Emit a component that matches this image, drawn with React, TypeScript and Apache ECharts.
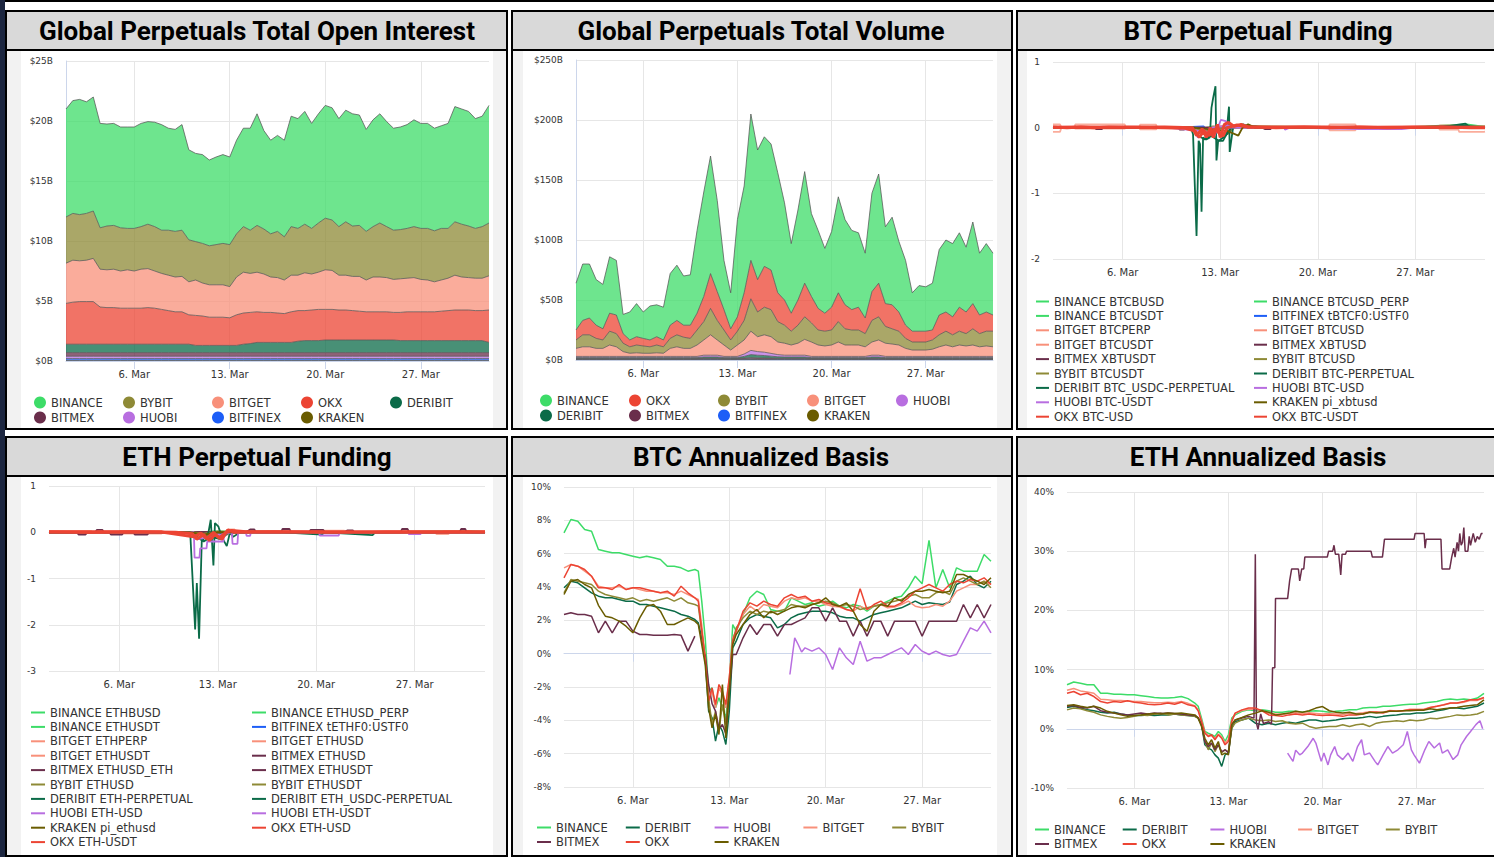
import React, { useEffect, useRef } from "react";
import * as echarts from "echarts";

// ---------- time grids: days after 1 Mar 2023 00:00 ----------
const halfDayTimes: number[] = Array.from({ length: 63 }, (_, i) => i * 0.5);
const basisTimes: number[] = [
  0, 0.5, 1, 1.5, 2, 2.5, 3, 3.5, 4, 4.5, 5, 5.5, 6, 6.5, 7, 7.5, 8, 8.5, 9, 9.5,
  9.75, 10, 10.25, 10.5, 10.75, 11, 11.25, 11.5, 11.75, 12, 12.25,
  12.5, 13, 13.5, 14, 14.5, 15, 15.5, 16, 16.5, 17, 17.5, 18, 18.5, 19, 19.5, 20, 20.5, 21, 21.5,
  22, 22.5, 23, 23.5, 24, 24.5, 25, 25.5, 26, 26.5, 27, 27.5, 28, 28.5, 29, 29.5, 30, 30.5, 31,
];
const dateTicks = [5, 12, 19, 26]; // 6. Mar, 13. Mar, 20. Mar, 27. Mar

const exchangeColors: Record<string, string> = {
  BINANCE: "#3ddc68",
  BYBIT: "#8e8a36",
  BITGET: "#f8907a",
  OKX: "#ec4433",
  DERIBIT: "#0b6b48",
  BITMEX: "#6a2e4b",
  HUOBI: "#b86ee0",
  BITFINEX: "#1d5ef7",
  KRAKEN: "#6a5c00",
};

// ---------- Open interest ($B), every 12h ----------
const oiBinance = [
  9.0, 9.4, 9.6, 9.3, 9.5, 8.7, 8.5, 8.5, 8.4, 8.45,
  8.45, 8.6, 8.55, 8.7, 8.8, 8.5, 8.5, 8.8, 7.5, 7.35,
  7.4, 7.15, 7.3, 7.4, 7.3, 7.8, 8.2, 8.5, 9.3, 8.2,
  7.8, 8.0, 8.05, 9.2, 9.15, 9.4, 8.75, 9.1, 9.4, 9.35,
  9.0, 9.3, 9.35, 9.2, 8.5, 8.9, 9.1, 8.75, 8.5, 8.55,
  8.65, 8.9, 8.75, 8.75, 8.55, 8.55, 8.75, 9.6, 9.6, 9.55,
  9.15, 9.2, 9.8,
];
const oiBybit = [
  3.85, 3.9, 3.85, 3.9, 3.95, 3.45, 3.65, 3.65, 3.6, 3.45,
  3.55, 3.55, 3.7, 3.7, 3.6, 3.75, 3.8, 3.85, 3.5, 3.2,
  3.3, 3.25, 3.35, 3.45, 3.5, 3.6, 3.8, 3.6, 3.9, 3.75,
  3.6, 3.85, 3.6, 4.05, 3.9, 4.05, 3.8, 4.1, 4.3, 4.2,
  4.05, 4.45, 4.2, 4.25, 4.05, 4.2, 4.5, 4.25, 4.1, 4.1,
  4.15, 4.25, 4.25, 4.3, 4.25, 4.3, 4.15, 4.45, 4.4, 4.3,
  4.15, 4.3, 4.4,
];
const oiBitget = [
  3.35, 3.5, 3.4, 3.45, 3.6, 3.15, 3.15, 3.2, 3.1, 3.2,
  3.1, 3.25, 3.25, 3.1, 3.0, 2.95, 2.9, 2.95, 2.75, 2.95,
  2.75, 2.7, 2.7, 2.7, 2.6, 3.15, 3.4, 3.25, 3.3, 3.2,
  2.95, 2.95, 2.8, 3.05, 2.95, 3.15, 3.0, 3.1, 3.3, 3.25,
  2.9, 2.9, 2.85, 2.9, 2.65, 2.9, 2.9, 2.85, 2.75, 2.8,
  2.8, 2.85, 2.7, 2.65, 2.5, 2.6, 2.7, 2.9, 2.75, 2.7,
  2.7, 2.7, 2.85,
];
const oiOkx = [
  3.4, 3.5, 3.55, 3.55, 3.55, 3.1, 3.05, 3.05, 3.0, 3.0,
  3.0, 3.0, 3.05, 3.0, 2.9, 2.8, 2.7, 2.7, 2.45, 2.5,
  2.45, 2.35, 2.35, 2.35, 2.3, 2.55, 2.6, 2.6, 2.55, 2.5,
  2.5, 2.45, 2.4, 2.55, 2.55, 2.5, 2.55, 2.6, 2.55, 2.55,
  2.5, 2.5, 2.45, 2.4, 2.35, 2.35, 2.35, 2.35, 2.3, 2.35,
  2.4, 2.4, 2.4, 2.4, 2.4, 2.45, 2.5, 2.55, 2.55, 2.55,
  2.5, 2.5, 2.7,
];
const oiDeribit = [
  0.7, 0.7, 0.7, 0.7, 0.7, 0.7, 0.7, 0.7, 0.7, 0.7,
  0.7, 0.7, 0.7, 0.7, 0.7, 0.7, 0.7, 0.7, 0.7, 0.6,
  0.6, 0.6, 0.6, 0.6, 0.6, 0.6, 0.7, 0.75, 0.85, 0.85,
  0.85, 0.85, 0.85, 0.85, 0.95, 1.0, 1.0, 1.0, 1.05, 1.05,
  1.05, 1.05, 1.05, 1.05, 1.05, 1.05, 1.05, 1.05, 1.05, 1.0,
  1.0, 1.0, 1.0, 1.0, 1.0, 1.0, 1.0, 1.0, 1.0, 1.0,
  1.0, 1.0, 0.85,
];
const oiBitmex = [
  0.3, 0.3, 0.3, 0.3, 0.3, 0.3, 0.3, 0.3, 0.3, 0.3,
  0.3, 0.3, 0.3, 0.3, 0.3, 0.3, 0.3, 0.3, 0.3, 0.3,
  0.3, 0.3, 0.3, 0.3, 0.3, 0.3, 0.3, 0.3, 0.3, 0.3,
  0.3, 0.3, 0.3, 0.3, 0.3, 0.3, 0.3, 0.3, 0.3, 0.3,
  0.3, 0.3, 0.3, 0.3, 0.3, 0.3, 0.3, 0.3, 0.3, 0.3,
  0.3, 0.3, 0.3, 0.3, 0.3, 0.3, 0.3, 0.3, 0.3, 0.3,
  0.3, 0.3, 0.3,
];
const oiHuobi = [
  0.2, 0.2, 0.2, 0.2, 0.2, 0.2, 0.2, 0.2, 0.2, 0.2,
  0.2, 0.2, 0.2, 0.2, 0.2, 0.2, 0.2, 0.2, 0.2, 0.2,
  0.2, 0.2, 0.2, 0.2, 0.2, 0.2, 0.2, 0.2, 0.2, 0.2,
  0.2, 0.2, 0.2, 0.2, 0.2, 0.2, 0.2, 0.2, 0.2, 0.2,
  0.2, 0.2, 0.2, 0.2, 0.2, 0.2, 0.2, 0.2, 0.2, 0.2,
  0.2, 0.2, 0.2, 0.2, 0.2, 0.2, 0.2, 0.2, 0.2, 0.2,
  0.2, 0.2, 0.2,
];
const oiBitfinex = [
  0.15, 0.15, 0.15, 0.15, 0.15, 0.15, 0.15, 0.15, 0.15, 0.15,
  0.15, 0.15, 0.15, 0.15, 0.15, 0.15, 0.15, 0.15, 0.15, 0.15,
  0.15, 0.15, 0.15, 0.15, 0.15, 0.15, 0.15, 0.15, 0.15, 0.15,
  0.15, 0.15, 0.15, 0.15, 0.15, 0.15, 0.15, 0.15, 0.15, 0.15,
  0.15, 0.15, 0.15, 0.15, 0.15, 0.15, 0.15, 0.15, 0.15, 0.15,
  0.15, 0.15, 0.15, 0.15, 0.15, 0.15, 0.15, 0.15, 0.15, 0.15,
  0.15, 0.15, 0.15,
];
const oiKraken = [
  0.05, 0.05, 0.05, 0.05, 0.05, 0.05, 0.05, 0.05, 0.05, 0.05,
  0.05, 0.05, 0.05, 0.05, 0.05, 0.05, 0.05, 0.05, 0.05, 0.05,
  0.05, 0.05, 0.05, 0.05, 0.05, 0.05, 0.05, 0.05, 0.05, 0.05,
  0.05, 0.05, 0.05, 0.05, 0.05, 0.05, 0.05, 0.05, 0.05, 0.05,
  0.05, 0.05, 0.05, 0.05, 0.05, 0.05, 0.05, 0.05, 0.05, 0.05,
  0.05, 0.05, 0.05, 0.05, 0.05, 0.05, 0.05, 0.05, 0.05, 0.05,
  0.05, 0.05, 0.05,
];

// ---------- Volume ($B), every 12h ----------
const volBinance = [
  39, 47, 45, 38, 37, 47, 45.5, 16, 23.3, 27.6,
  22, 28.3, 26.6, 27.3, 43, 46, 41, 42, 69, 87,
  98, 76, 41, 30, 81, 89, 122, 108, 108, 105,
  100, 81, 58, 75, 93, 69, 65, 54, 63, 80,
  71, 66, 62, 54, 82, 91, 64, 73, 59, 54,
  32, 38, 37, 39, 54.5, 60, 61, 62, 54, 68,
  51.5, 57, 51.5,
];
const volOkx = [
  8.3, 12, 14, 11, 9.3, 15, 15.5, 8, 5.7, 6.9,
  6.3, 5.7, 6.9, 5.7, 11, 12, 10, 11, 14, 21,
  29, 24, 17, 9.3, 12, 23, 32, 27, 34, 33,
  24, 21, 15, 21, 28, 22, 18, 15, 19, 24,
  20, 17, 19, 13, 24, 28, 19, 20, 16, 11,
  9, 9, 9, 8.3, 16.5, 16, 15, 20, 18, 21,
  15.5, 16, 13.5,
];
const volBybit = [
  7, 10, 10, 8.3, 7, 11.5, 11, 7, 5.4, 6.5,
  6.1, 5.4, 6.5, 5.4, 8.3, 10, 9.3, 8.3, 12.5, 15.3,
  22, 16.3, 12.5, 8.4, 11.5, 16.3, 27, 20.6, 23, 22.6,
  17, 15, 11.5, 15, 18.8, 16, 12.5, 12.3, 12.5, 17,
  13.5, 12.5, 12.5, 11, 18, 19.3, 14, 12.7, 11.5, 8.3,
  6.7, 6.7, 6.7, 7.7, 10, 11.5, 10, 11.5, 10.3, 13.5,
  11, 12.3, 13,
];
const volBitget = [
  6.7, 8, 8, 6.7, 6.7, 9.5, 8, 4, 2.6, 3,
  2.6, 2.6, 3, 2.6, 6.7, 8, 6.7, 6.7, 9.5, 12.7,
  17, 12.7, 9.5, 5.3, 9.5, 11.7, 16, 12.4, 14.5, 13.9,
  10.5, 10, 8.5, 10, 13.2, 12, 9.5, 8.7, 9.5, 12,
  9.5, 9.5, 9.5, 8, 11, 12.7, 11, 10.3, 9.5, 6.7,
  5.3, 5.3, 5.3, 6, 8, 9.5, 8, 9.5, 8.7, 9.5,
  8, 8.7, 8,
];
const volHuobi = [
  1, 1, 1, 1, 1, 1, 1, 1, 1, 1,
  1, 1, 1, 1, 1, 1, 1, 1, 1, 1.5,
  1.5, 1.5, 1, 1, 1, 2, 3.5, 3, 2.8, 2.3,
  1.8, 1.5, 1.5, 1.5, 1.5, 1, 1, 1, 1, 1,
  1, 1, 1, 1, 1.5, 1.5, 1, 1, 1, 1,
  1, 1, 1, 1, 1, 1, 1, 1, 1, 1,
  1, 1, 1,
];
const volDeribit = [
  0.8, 0.8, 0.8, 0.8, 0.8, 0.8, 0.8, 0.8, 0.8, 0.8,
  0.8, 0.8, 0.8, 0.8, 0.8, 0.8, 0.8, 0.8, 0.8, 1.1,
  1.1, 1.1, 0.8, 0.8, 0.8, 1.4, 2.5, 2.2, 2.0, 1.6,
  1.3, 1.1, 1.1, 1.1, 1.1, 0.8, 0.8, 0.8, 0.8, 0.8,
  0.8, 0.8, 0.8, 0.8, 1.1, 1.1, 0.8, 0.8, 0.8, 0.8,
  0.8, 0.8, 0.8, 0.8, 0.8, 0.8, 0.8, 0.8, 0.8, 0.8,
  0.8, 0.8, 0.8,
];
const volBitmex = [
  0.5, 0.5, 0.5, 0.5, 0.5, 0.5, 0.5, 0.5, 0.5, 0.5,
  0.5, 0.5, 0.5, 0.5, 0.5, 0.5, 0.5, 0.5, 0.5, 0.6,
  0.6, 0.6, 0.5, 0.5, 0.5, 0.8, 1.0, 0.9, 0.9, 0.8,
  0.6, 0.6, 0.6, 0.6, 0.6, 0.5, 0.5, 0.5, 0.5, 0.5,
  0.5, 0.5, 0.5, 0.5, 0.6, 0.6, 0.5, 0.5, 0.5, 0.5,
  0.5, 0.5, 0.5, 0.5, 0.5, 0.5, 0.5, 0.5, 0.5, 0.5,
  0.5, 0.5, 0.5,
];
const volBitfinex = [
  0.4, 0.4, 0.4, 0.4, 0.4, 0.4, 0.4, 0.4, 0.4, 0.4,
  0.4, 0.4, 0.4, 0.4, 0.4, 0.4, 0.4, 0.4, 0.4, 0.5,
  0.5, 0.5, 0.4, 0.4, 0.4, 0.5, 0.6, 0.5, 0.5, 0.5,
  0.5, 0.5, 0.5, 0.5, 0.5, 0.4, 0.4, 0.4, 0.4, 0.4,
  0.4, 0.4, 0.4, 0.4, 0.5, 0.5, 0.4, 0.4, 0.4, 0.4,
  0.4, 0.4, 0.4, 0.4, 0.4, 0.4, 0.4, 0.4, 0.4, 0.4,
  0.4, 0.4, 0.4,
];
const volKraken = [
  0.3, 0.3, 0.3, 0.3, 0.3, 0.3, 0.3, 0.3, 0.3, 0.3,
  0.3, 0.3, 0.3, 0.3, 0.3, 0.3, 0.3, 0.3, 0.3, 0.3,
  0.3, 0.3, 0.3, 0.3, 0.3, 0.3, 0.4, 0.4, 0.3, 0.3,
  0.3, 0.3, 0.3, 0.3, 0.3, 0.3, 0.3, 0.3, 0.3, 0.3,
  0.3, 0.3, 0.3, 0.3, 0.3, 0.3, 0.3, 0.3, 0.3, 0.3,
  0.3, 0.3, 0.3, 0.3, 0.3, 0.3, 0.3, 0.3, 0.3, 0.3,
  0.3, 0.3, 0.3,
];

// ---------- BTC perpetual funding: [day, rate] ----------
const fBtcBinanceBusd = [[0, 0.01], [3, 0], [6, 0.01], [9, 0.005], [10.5, -0.02], [11.5, 0.02], [12.5, 0], [13.5, 0.03], [15, 0.01], [18, 0], [21, 0.01], [24, 0.005], [27, 0.01], [29.5, 0.04], [30, 0.01], [31, 0.02]];
const fBtcBinanceUsdPerp = [[0, 0.01], [4, 0.01], [8, 0.01], [10, 0], [11, -0.05], [12, 0.01], [13, 0.02], [16, 0.01], [20, 0.01], [24, 0.01], [28, 0.01], [31, 0.01]];
const fBtcBinanceUsdt = [[0, 0.005], [5, 0], [9, 0.005], [10.6, -0.03], [11.4, 0], [12.6, 0.03], [13.2, 0.01], [17, 0.01], [22, 0], [26, 0.01], [29.7, 0.05], [31, 0.01]];
const fBtcBitfinex = [[0, 0.01], [10, 0.01], [10.8, 0.02], [11.2, -0.05], [12, 0.01], [20, 0], [31, 0.01]];
const fBtcBitgetPerp = [[0, 0.05], [0.5, 0.05], [0.6, 0], [1.55, 0], [1.6, 0.05], [5.15, 0.05], [5.2, 0.01], [6.2, 0.01], [6.25, 0.045], [7.4, 0.045], [7.45, 0.01], [9.5, 0.01], [10.5, -0.02], [11.5, 0.02], [12.5, 0.03], [13, 0.01], [19.8, 0.01], [19.85, 0.05], [21.7, 0.05], [21.75, 0.01], [27.7, 0.01], [27.75, 0.035], [28.9, 0.035], [28.95, 0.01], [31, 0.01]];
const fBtcBitgetUsd = [[0, -0.065], [0.5, -0.065], [0.6, 0], [1.55, 0], [1.6, -0.015], [5.15, -0.015], [5.2, 0], [6.2, 0], [6.25, -0.025], [7.4, -0.025], [7.45, 0], [19.8, 0], [19.85, -0.04], [21.7, -0.04], [21.75, 0], [27.7, 0], [27.75, -0.03], [29.1, -0.03], [29.15, -0.065], [30.9, -0.065], [31, -0.06]];
const fBtcBitgetUsdt = [[0, 0.01], [4, 0.01], [8, 0.005], [10, 0], [10.6, -0.08], [11.2, -0.1], [11.8, -0.05], [12.4, -0.1], [12.9, 0.02], [14, 0.01], [18, 0.01], [22, 0], [26, 0.01], [30, 0.01], [31, 0]];
const fBtcBitmexXbtusd = [[0, 0], [3, 0], [3.1, -0.02], [3.5, -0.02], [3.6, 0], [9, 0], [9.1, -0.03], [9.4, -0.03], [9.5, 0], [12, 0], [14.5, 0.02], [15, 0], [15.2, -0.02], [15.6, -0.02], [15.7, 0], [31, 0]];
const fBtcBitmexXbtusdt = [[0, 0.005], [6, 0], [10, 0.005], [11, -0.03], [12, 0], [20, 0.005], [31, 0]];
const fBtcBybitUsd = [[0, 0.01], [5, 0.01], [10, 0], [11, -0.05], [12, -0.08], [12.5, -0.1], [13, 0], [14, 0.02], [20, 0.01], [31, 0.01]];
const fBtcBybitUsdt = [[0, 0.01], [6, 0.01], [10, 0.01], [10.8, -0.04], [11.8, -0.02], [12.8, 0.03], [13.5, 0.02], [18, 0.01], [25, 0.01], [31, 0.01]];
const fBtcDeribitPerp = [[0, 0.005], [2, 0], [4, 0.005], [6, 0], [8, 0.005], [9.9, 0], [10.05, -0.1], [10.3, -1.65], [10.45, -0.2], [10.55, -0.25], [10.66, -1.28], [10.77, -0.15], [11.0, -0.18], [11.25, -0.15], [11.37, 0.3], [11.49, 0.45], [11.66, 0.63], [11.73, -0.5], [11.85, -0.2], [12.2, -0.2], [12.44, -0.1], [12.63, 0.32], [12.68, -0.37], [12.92, 0], [13.4, 0.03], [13.64, 0.05], [14, 0.02], [16, 0], [18, 0.01], [20, 0], [22, 0.01], [24, 0], [26, 0.005], [28, 0.01], [29.6, 0.06], [30, 0], [31, 0.01]];
const fBtcDeribitUsdc = [[0, 0], [5, 0.01], [10, 0], [10.4, -0.12], [10.9, -0.18], [11.3, -0.12], [11.9, -0.2], [12.4, -0.12], [12.8, 0], [13.5, 0.04], [14, 0], [20, 0.01], [25, 0], [29.5, 0.03], [31, 0]];
const fBtcHuobiUsd = [[0, 0], [5, 0.01], [10, 0], [10.4, -0.15], [10.9, -0.05], [11.6, -0.12], [12.05, 0.12], [12.4, 0.1], [12.6, 0], [14, 0], [16.6, 0], [16.65, -0.03], [17, 0], [22, -0.02], [25, -0.02], [26, 0], [31, 0]];
const fBtcHuobiUsdt = [[0, 0.005], [8, 0.005], [10.5, -0.05], [11.5, 0], [12.5, 0.03], [14, 0.005], [20, 0], [24, -0.015], [27, 0], [31, 0.005]];
const fBtcKraken = [[0, 0], [10, 0], [12.5, -0.05], [13.3, -0.12], [13.6, 0], [14, 0.05], [14.5, 0], [31, 0]];
const fBtcOkxUsd = [[0, 0.01], [1, 0], [2, 0.01], [3, 0], [4, 0.01], [6, 0.005], [8, 0], [9.5, -0.01], [10.2, -0.05], [10.5, -0.15], [10.8, -0.05], [11, -0.15], [11.3, 0], [11.5, -0.15], [11.8, 0.05], [12, -0.15], [12.3, 0.05], [12.6, 0.08], [13, 0.02], [13.5, 0.05], [14, 0.01], [16, 0], [18, 0.01], [20, 0], [22, 0.01], [24, 0], [26, 0.005], [28, 0.01], [30, 0], [31, 0]];
const fBtcOkxUsdt = [[0, 0.005], [2, 0.01], [5, 0.005], [8, 0.01], [10, 0], [10.3, -0.12], [10.7, -0.02], [11.2, -0.12], [11.6, -0.02], [12.2, -0.13], [12.5, 0], [13.2, 0.04], [14, 0.01], [17, 0.01], [20, 0.01], [23, 0.005], [26, 0.01], [29, 0.005], [31, 0.01]];

// ---------- ETH perpetual funding: [day, rate] ----------
const fEthBinanceBusd = [[0, 0.01], [4, 0.005], [8, 0.01], [10.5, -0.03], [11.5, 0.01], [13, 0.02], [17, 0.01], [22, 0.005], [26, 0.01], [29.6, 0.03], [31, 0.01]];
const fEthBinanceUsdPerp = [[0, 0.01], [6, 0.01], [10, 0], [11, -0.05], [12, 0], [14, 0.01], [20, 0.01], [31, 0.01]];
const fEthBinanceUsdt = [[0, 0.005], [5, 0.01], [9, 0.005], [10.7, -0.04], [11.7, 0.02], [13, 0.01], [19, 0], [25, 0.01], [31, 0.01]];
const fEthBitfinex = [[0, 0.01], [10, 0.01], [11, -0.03], [12, 0.01], [31, 0.01]];
const fEthBitgetPerp = [[0, 0.03], [3, 0.03], [3.05, 0], [5, 0], [5.05, 0.03], [8, 0.03], [8.05, 0], [12.7, 0], [12.75, 0.06], [13.2, 0.06], [13.25, 0], [19, 0], [19.05, 0.035], [21, 0.035], [21.05, 0], [28, 0], [28.05, 0.03], [30, 0.03], [30.05, 0], [31, 0]];
const fEthBitgetUsd = [[0, -0.02], [3, -0.02], [3.05, 0], [5, 0], [5.05, -0.03], [8, -0.03], [8.05, 0], [12, 0], [12.7, -0.05], [13.5, 0], [27.5, 0], [27.55, -0.04], [28.4, -0.04], [28.45, 0], [31, 0]];
const fEthBitgetUsdt = [[0, 0.01], [5, 0.01], [10, 0], [10.8, -0.1], [11.6, -0.15], [12.4, -0.05], [13, 0.02], [18, 0.01], [24, 0.01], [31, 0.01]];
const fEthBitmexUsd = [[0, 0], [2, 0], [2.1, -0.05], [2.6, -0.05], [2.7, 0], [3.3, 0], [3.4, 0.05], [3.8, 0.05], [3.9, 0], [4.3, 0], [4.4, -0.05], [5.2, -0.05], [5.3, 0], [16.5, 0], [16.6, 0.07], [17.1, 0.07], [17.2, 0], [18.5, 0], [18.6, 0.05], [19.5, 0.05], [19.6, 0], [25, 0], [25.1, 0.07], [25.5, 0.07], [25.6, 0], [29.2, 0], [29.3, 0.07], [29.6, 0.07], [29.7, 0], [31, 0]];
const fEthBitmexUsdEth = [[0, 0], [6, 0], [6.1, -0.05], [7, -0.05], [7.1, 0], [14, 0], [14.3, 0.06], [14.6, 0.06], [14.7, 0], [21, 0], [21.2, 0.04], [21.6, 0.04], [21.7, 0], [31, 0]];
const fEthBitmexUsdt = [[0, 0.005], [10, 0], [11, -0.05], [12, 0], [31, 0.005]];
const fEthBybitUsd = [[0, 0.01], [10, 0], [11, -0.06], [12, -0.1], [12.6, 0], [31, 0.01]];
const fEthBybitUsdt = [[0, 0.01], [10, 0.01], [11, -0.03], [12, 0.02], [13, 0.01], [31, 0.01]];
const fEthDeribitPerp = [[0, 0], [4, 0.01], [8, 0], [10.04, 0], [10.39, -2.1], [10.51, -1.1], [10.67, -2.3], [10.86, -0.2], [11.1, -0.1], [11.34, 0], [11.5, 0.27], [11.69, -0.72], [11.8, 0.2], [12.05, 0.12], [12.28, -0.1], [12.64, -0.3], [12.87, 0], [13.1, -0.1], [13.58, 0], [16, 0.01], [19.4, -0.05], [19.6, 0], [23, -0.06], [23.2, 0], [28, 0.01], [31, 0]];
const fEthDeribitUsdc = [[0, 0], [10, 0], [10.5, -0.1], [11, -0.2], [11.5, -0.1], [12.2, -0.15], [12.8, 0], [31, 0]];
const fEthHuobiUsd = [[0, 0], [10.3, 0], [10.35, -0.55], [10.7, -0.55], [10.75, -0.35], [11.2, -0.35], [11.25, -0.2], [12.4, -0.2], [12.45, 0], [13.0, 0], [13.05, -0.25], [13.4, -0.25], [13.45, 0], [14.0, 0], [14.05, -0.08], [14.3, -0.08], [14.35, 0], [19.2, 0], [19.25, -0.07], [20.6, -0.07], [20.65, 0], [31, 0]];
const fEthHuobiUsdt = [[0, 0.005], [10, 0], [10.6, -0.15], [11.4, -0.1], [12.2, -0.05], [13, 0], [25.5, 0], [25.6, -0.04], [26.4, -0.04], [26.5, 0], [31, 0]];
const fEthKraken = [[0, 0], [10, 0], [11, -0.05], [12, 0], [31, 0]];
const fEthOkxUsd = [[0, 0.01], [3, 0], [6, 0.01], [9, 0], [10.2, -0.03], [10.5, -0.15], [11, -0.05], [11.4, -0.18], [11.8, -0.05], [12.3, -0.15], [12.7, 0.05], [13.2, 0], [16, 0.01], [20, 0], [24, 0.01], [28, 0.005], [31, 0.01]];
const fEthOkxUsdt = [[0, 0.005], [4, 0.01], [8, 0.005], [10.3, -0.1], [10.8, -0.02], [11.2, -0.14], [11.7, 0], [12.1, -0.13], [12.6, 0], [13, 0.04], [14, 0.01], [18, 0.01], [23, 0.005], [27, 0.01], [31, 0.005]];

// ---------- BTC annualized basis (%), on basisTimes ----------
const btcBasisBinance = [
  7.25, 8.05, 7.95, 7.45, 7.35, 6.25, 6.15, 6.05, 6.05, 5.95, 5.85, 5.75, 5.85, 5.75, 5.65, 5.25, 5.25, 5.15, 4.95, 5.05,
  4.95, 3.15, 0.95, -2.25, -2.05, -3.25, -2.65, -3.25, -3.85, -1.85, 1.75,
  1.35, 2.35, 3.35, 3.75, 3.55, 2.65, 2.55, 2.55, 3.35, 3.15, 2.95, 3.05, 2.85, 2.95, 3.15, 2.85, 2.75, 2.95, 2.85,
  2.55, 2.85, 2.95, 3.15, 3.35, 3.45, 3.95, 4.65, 4.2, 6.8, 3.95, 5.05, 3.95, 5.15, 4.95, 4.95, 4.95, 5.95, 5.55,
];
const btcBasisDeribit = [
  3.95, 4.35, 4.25, 3.95, 3.65, 3.45, 3.35, 3.35, 3.25, 3.15, 3.15, 2.95, 2.95, 2.85, 2.75, 2.65, 2.55, 2.35, 2.25, 2.05,
  1.85, 0.95, -0.25, -3.45, -3.85, -5.25, -4.25, -4.65, -5.45, -3.45, 0.35,
  0.75, 1.75, 2.15, 2.35, 2.25, 2.15, 1.55, 1.75, 2.15, 2.35, 2.45, 2.55, 2.55, 2.55, 2.45, 2.25, 2.15, 2.15, 1.95,
  2.15, 2.35, 2.45, 2.55, 2.65, 2.75, 2.95, 3.15, 2.95, 3.05, 3.0, 2.95, 3.1, 4.15, 4.35, 4.65, 4.15, 3.95, 4.35,
];
const btcBasisHuobi = [
  [16.4, -1.25], [16.75, 0.95], [17, 0.55], [17.25, 0.1], [17.5, 0.35], [18, 0.15], [18.5, 0.35], [19, -0.05], [19.5, -0.95], [20, 0.35],
  [20.5, -0.25], [21, -0.65], [21.5, 0.75], [22, -0.45], [22.5, -0.25], [23, -0.25], [23.5, -0.05], [24, 0.15], [24.5, 0.35],
  [25, -0.05], [25.5, 0.55], [26, 0.15], [26.5, -0.05], [27, 0.15], [27.5, -0.05], [28, -0.15], [28.5, -0.05], [29, 0.75],
  [29.5, 1.55], [30, 1.35], [30.5, 1.95], [31, 1.25],
];
const btcBasisBitget = [
  5.15, 5.35, 5.25, 4.95, 4.65, 4.05, 3.95, 3.95, 4.05, 3.85, 3.95, 3.85, 3.75, 3.75, 3.65, 3.65, 3.55, 3.75, 3.55, 3.35,
  3.25, 1.75, -0.25, -2.85, -2.25, -3.25, -2.05, -2.45, -3.25, -1.45, 0.95,
  1.35, 2.35, 2.85, 2.55, 2.95, 2.85, 2.75, 3.15, 3.35, 3.25, 3.35, 3.15, 3.15, 2.95, 2.85, 2.8, 2.65, 2.55, 2.85,
  2.65, 2.85, 2.95, 2.75, 2.8, 2.95, 3.15, 2.85, 2.75, 2.8, 2.95, 2.85, 3.15, 3.75, 3.95, 4.15, 4.15, 4.35, 4.15,
];
const btcBasisBybit = [
  3.65, 4.45, 4.35, 4.25, 4.15, 3.75, 3.55, 3.45, 3.35, 3.25, 3.35, 3.15, 3.25, 3.15, 3.25, 3.35, 3.15, 3.35, 3.05, 2.95,
  2.85, 1.35, -0.25, -2.65, -4.25, -3.45, -4.65, -3.05, -4.25, -1.85, 0.75,
  1.55, 2.15, 2.55, 2.35, 2.55, 2.45, 2.55, 2.65, 2.95, 2.85, 2.85, 2.95, 3.05, 3.15, 3.05, 2.85, 2.95, 2.85, 2.65,
  2.75, 2.85, 2.95, 3.05, 3.15, 3.25, 3.45, 3.55, 3.35, 3.35, 3.65, 3.75, 3.55, 4.35, 4.55, 4.35, 4.15, 4.35, 3.95,
];
const btcBasisBitmex = [
  2.35, 2.45, 2.35, 2.35, 2.25, 1.25, 1.95, 1.25, 1.95, 1.95, 1.35, 1.15, 1.15, 1.1, 1.1, 1.1, 1.15, 1.1, 0.15, 1.05,
  null, null, -0.05, -1.85, -3.0, -3.45, -4.5, -4.25, -4.8, -2.25, -0.05,
  -0.05, 0.95, 1.75, 1.15, 1.75, 1.75, 1.05, 1.75, 1.75, 1.95, 2.15, 2.75, 2.75, 1.95, 2.75, 1.95, 1.95, 1.05, 1.95,
  1.05, 1.95, 1.95, 1.05, 1.95, 1.95, 1.95, 1.95, 1.05, 1.95, 1.95, 1.95, 1.95, 1.95, 2.95, 2.15, 2.95, 2.15, 2.95,
];
const btcBasisOkx = [
  4.55, 5.35, 5.25, 5.05, 4.65, 3.95, 3.95, 3.85, 4.15, 3.85, 3.95, 3.95, 3.85, 3.75, 3.65, 3.75, 3.45, 4.05, 3.65, 3.35,
  3.15, 1.35, -0.25, -2.85, -2.05, -3.05, -1.85, -2.25, -3.05, -1.45, 0.75,
  1.35, 2.55, 3.05, 2.85, 3.15, 2.95, 2.85, 3.35, 3.55, 3.35, 3.45, 3.15, 3.25, 3.05, 2.95, 2.85, 2.65, 2.55, 3.9,
  2.65, 2.95, 3.15, 2.85, 2.85, 3.05, 3.35, 3.75, 3.95, 4.15, 3.95, 3.75, 4.15, 4.35, 4.25, 4.45, 4.35, 4.55, 4.15,
];
const btcBasisKraken = [
  3.55, 4.35, 4.45, 4.15, 3.95, 2.9, 2.25, 2.15, 1.95, 1.65, 1.25, 2.15, 2.85, 2.95, 2.55, 1.75, 1.75, 1.95, 2.15, 1.95,
  1.75, 0.55, -0.65, -3.25, -4.45, -3.65, -4.85, -1.85, -5.05, -2.25, 0.55,
  1.15, 1.75, 2.35, 2.65, 2.15, 2.55, 2.35, 2.55, 2.75, 2.85, 2.75, 2.95, 3.05, 3.35, 2.95, 2.85, 3.05, 2.55, 1.75,
  1.35, 2.55, 2.95, 2.85, 3.35, 3.15, 3.55, 3.75, 3.75, 3.85, 3.75, 3.65, 3.75, 4.75, 4.75, 4.55, 4.35, 4.15, 4.55,
];

// ---------- ETH annualized basis (%), on basisTimes ----------
const ethBasisBinance = [
  7.45, 7.9, 7.7, 7.45, 7.45, 6.0, 6.0, 5.85, 5.85, 5.75, 5.75, 5.6, 5.45, 5.3, 5.2, 5.2, 5.3, 5.45, 5.1, 4.35,
  3.8, 1.8, -0.45, -0.75, -1.0, -1.3, -0.45, -1.0, -2.15, -1.0, 1.8,
  2.35, 2.95, 3.2, 3.05, 3.2, 3.05, 2.8, 2.8, 2.95, 2.95, 2.8, 2.95, 3.05, 2.95, 2.8, 2.95, 3.05, 3.2, 3.2,
  3.5, 3.6, 3.6, 3.8, 3.8, 3.95, 4.05, 4.15, 4.15, 4.35, 4.5, 4.6, 4.9, 5.05, 4.9, 5.05, 4.9, 5.2, 6.0,
];
const ethBasisDeribit = [
  3.6, 3.8, 3.5, 3.2, 3.05, 2.8, 2.65, 2.8, 2.5, 2.35, 2.25, 2.25, 2.35, 2.25, 2.35, 2.35, 2.5, 2.35, 2.25, 2.1,
  1.8, 0.7, -2.7, -3.25, -3.55, -4.4, -4.95, -6.35, -4.4, -4.1, 0.1,
  1.25, 1.5, 1.8, 0.95, 0.7, 0.95, 0.7, 0.95, 1.1, 0.95, 1.25, 1.5, 1.5, 1.25, 1.35, 1.5, 1.7, 1.8, 1.8,
  1.9, 2.1, 1.9, 2.1, 2.25, 2.35, 2.5, 2.5, 2.65, 2.65, 2.8, 3.05, 3.2, 3.5, 3.5, 3.4, 3.6, 3.8, 4.35,
];
const ethBasisHuobi = [
  [16.4, -4.1], [16.8, -5.5], [17.0, -3.6], [17.3, -4.4], [17.5, -4.1], [17.9, -3.0], [18.3, -1.6], [18.5, -2.4], [18.9, -5.5],
  [19.1, -4.1], [19.4, -6.1], [19.6, -4.4], [19.9, -3.0], [20.1, -4.4], [20.5, -5.2], [20.9, -4.1], [21.25, -5.5], [21.6, -3.0],
  [21.9, -1.85], [22.1, -4.4], [22.5, -4.1], [22.9, -5.5], [23.1, -6.1], [23.5, -4.4], [23.85, -3.0], [24.2, -4.1], [24.6, -3.55],
  [25.0, -2.7], [25.3, -0.45], [25.6, -3.55], [25.8, -4.4], [26.2, -5.8], [26.6, -3.55], [26.9, -2.15], [27.3, -3.25], [27.7, -2.4],
  [27.9, -4.1], [28.3, -3.55], [28.7, -5.2], [29.05, -4.4], [29.3, -2.7], [29.7, -1.3], [30.0, -0.45], [30.4, 0.7], [30.7, 1.35],
  [30.9, 0.0],
];
const ethBasisBitget = [
  6.5, 6.8, 6.4, 6.2, 6.0, 5.0, 4.9, 4.8, 4.8, 4.7, 4.6, 4.6, 4.5, 4.4, 4.4, 4.5, 4.4, 4.6, 4.3, 3.9,
  3.2, 1.4, -0.6, -1.1, -1.2, -1.6, -0.9, -1.4, -2.4, -1.8, 1.4,
  2.6, 3.1, 3.3, 3.3, 3.1, 2.6, 2.5, 2.4, 2.6, 2.7, 2.6, 2.7, 2.6, 2.5, 2.6, 2.5, 2.4, 2.6, 2.6,
  2.7, 2.9, 2.9, 2.8, 3.1, 3.0, 3.1, 3.3, 3.3, 3.3, 3.6, 3.8, 4.0, 4.3, 4.3, 4.5, 4.8, 4.8, 5.2,
];
const ethBasisBybit = [
  3.2, 3.5, 3.4, 3.05, 2.8, 2.35, 2.1, 1.9, 1.8, 1.9, 2.1, 2.35, 2.25, 2.5, 2.65, 2.35, 2.5, 2.35, 2.25, 2.1,
  1.8, 0.7, -2.15, -3.55, -2.4, -3.85, -2.7, -4.1, -3.55, -3.85, 0.1,
  0.95, 1.5, 1.8, 1.5, 1.35, 1.5, 1.25, 1.35, 0.95, 0.8, 0.95, 0.4, 0.1, 0.25, 0.4, 0.4, 0.7, 0.4, 0.7,
  0.8, 0.4, 0.95, 1.15, 1.25, 1.35, 1.25, 1.5, 1.35, 1.5, 1.8, 1.7, 1.9, 2.1, 2.35, 2.25, 2.35, 2.5, 2.95,
];
const ethBasisBitmex = [
  [0, 3.8], [0.5, 3.95], [1, 3.6], [1.5, 3.5], [2, 3.8], [2.5, 3.05], [3, 2.8], [3.5, 2.65], [4, 2.5], [4.5, 2.35], [5, 2.5],
  [5.5, 2.65], [6, 2.5], [6.5, 2.65], [7, 2.6], [7.5, 2.65], [8, 2.6], [8.5, 2.5], [9, 2.35], [9.5, 2.25], [9.75, 1.9], [10, 0.7],
  [10.25, -2.15], [10.5, -3.0], [10.75, -2.4], [11, -3.55], [11.25, -2.7], [11.5, -3.85], [11.75, -3.55], [12, -4.1], [12.25, 0.7],
  [12.5, 1.5], [13, 1.8], [13.5, 2.1], [13.9, 1.8], [14, 29.5], [14.08, 1.0], [14.2, -0.1], [14.4, 2.5], [14.6, 0.9], [15, 1.2],
  [15.2, 0.8], [15.28, 10.3], [15.45, 10.3], [15.5, 22], [16.4, 22], [16.55, 25], [16.7, 27], [17.2, 27], [17.3, 25], [17.45, 27],
  [17.6, 27], [17.68, 29], [19.35, 29], [19.45, 30], [19.75, 30], [19.85, 31], [19.95, 29.5], [20.2, 29.5], [20.35, 26], [20.45, 29.5],
  [20.7, 29.5], [20.78, 30], [22.6, 30], [22.7, 29], [23.45, 29], [23.6, 32], [25.8, 32], [25.88, 33], [26.55, 33], [26.62, 30.5],
  [26.7, 32], [27.8, 32], [27.88, 27], [28.45, 27], [28.6, 29], [28.75, 30.5], [28.85, 29], [29.0, 31.5], [29.1, 30], [29.2, 33],
  [29.3, 31], [29.4, 31.5], [29.5, 34], [29.6, 30], [29.8, 30], [29.9, 32.5], [30.0, 31], [30.2, 33], [30.35, 31.5], [30.5, 32.5],
  [30.65, 32], [30.8, 33], [30.9, 33],
];
const ethBasisOkx = [
  6.0, 6.3, 5.75, 6.0, 5.45, 4.6, 4.35, 4.6, 4.5, 4.75, 4.5, 4.35, 4.15, 4.05, 4.15, 4.35, 4.15, 4.5, 4.05, 3.8,
  3.05, 1.25, -0.75, -1.3, -1.0, -1.85, -1.0, -1.6, -2.7, -2.15, 1.25,
  2.65, 3.2, 3.5, 3.5, 3.05, 2.35, 2.25, 2.1, 2.35, 2.5, 2.35, 2.5, 2.35, 2.25, 2.35, 2.25, 2.1, 2.35, 2.35,
  2.5, 2.8, 2.8, 2.65, 3.05, 2.95, 3.05, 3.2, 3.2, 3.2, 3.6, 3.8, 4.05, 4.35, 4.35, 4.6, 4.9, 4.9, 5.3,
];
const ethBasisKraken = [
  3.95, 4.05, 3.8, 3.6, 3.8, 3.5, 2.95, 2.65, 2.35, 2.1, 2.25, 2.35, 2.5, 2.6, 2.5, 2.65, 2.6, 2.65, 2.5, 2.35,
  1.8, 0.4, -1.6, -2.7, -1.85, -3.25, -2.15, -4.4, -4.1, -4.4, 0.7,
  1.5, 1.9, 2.35, 2.65, 3.05, 2.8, 2.35, 2.5, 2.65, 2.95, 2.8, 3.05, 3.5, 3.75, 3.05, 2.8, 2.65, 2.8, 2.5,
  2.5, 2.8, 2.65, 2.8, 2.95, 2.95, 3.05, 3.05, 3.15, 3.15, 3.4, 3.2, 3.4, 3.5, 3.6, 3.8, 3.95, 4.05, 4.9,
];

// ---------- series lists ----------
const oiLegendOrder: [string, number[]][] = [
  ["BINANCE", oiBinance], ["BYBIT", oiBybit], ["BITGET", oiBitget], ["OKX", oiOkx], ["DERIBIT", oiDeribit],
  ["BITMEX", oiBitmex], ["HUOBI", oiHuobi], ["BITFINEX", oiBitfinex], ["KRAKEN", oiKraken],
];
const volLegendOrder: [string, number[]][] = [
  ["BINANCE", volBinance], ["OKX", volOkx], ["BYBIT", volBybit], ["BITGET", volBitget], ["HUOBI", volHuobi],
  ["DERIBIT", volDeribit], ["BITMEX", volBitmex], ["BITFINEX", volBitfinex], ["KRAKEN", volKraken],
];
const btcFundingList: [string, number[][]][] = [
  ["BINANCE BTCBUSD", fBtcBinanceBusd], ["BINANCE BTCUSD_PERP", fBtcBinanceUsdPerp],
  ["BINANCE BTCUSDT", fBtcBinanceUsdt], ["BITFINEX tBTCF0:USTF0", fBtcBitfinex],
  ["BITGET BTCPERP", fBtcBitgetPerp], ["BITGET BTCUSD", fBtcBitgetUsd],
  ["BITGET BTCUSDT", fBtcBitgetUsdt], ["BITMEX XBTUSD", fBtcBitmexXbtusd],
  ["BITMEX XBTUSDT", fBtcBitmexXbtusdt], ["BYBIT BTCUSD", fBtcBybitUsd],
  ["BYBIT BTCUSDT", fBtcBybitUsdt], ["DERIBIT BTC-PERPETUAL", fBtcDeribitPerp],
  ["DERIBIT BTC_USDC-PERPETUAL", fBtcDeribitUsdc], ["HUOBI BTC-USD", fBtcHuobiUsd],
  ["HUOBI BTC-USDT", fBtcHuobiUsdt], ["KRAKEN pi_xbtusd", fBtcKraken],
  ["OKX BTC-USD", fBtcOkxUsd], ["OKX BTC-USDT", fBtcOkxUsdt],
];
const ethFundingList: [string, number[][]][] = [
  ["BINANCE ETHBUSD", fEthBinanceBusd], ["BINANCE ETHUSD_PERP", fEthBinanceUsdPerp],
  ["BINANCE ETHUSDT", fEthBinanceUsdt], ["BITFINEX tETHF0:USTF0", fEthBitfinex],
  ["BITGET ETHPERP", fEthBitgetPerp], ["BITGET ETHUSD", fEthBitgetUsd],
  ["BITGET ETHUSDT", fEthBitgetUsdt], ["BITMEX ETHUSD", fEthBitmexUsd],
  ["BITMEX ETHUSD_ETH", fEthBitmexUsdEth], ["BITMEX ETHUSDT", fEthBitmexUsdt],
  ["BYBIT ETHUSD", fEthBybitUsd], ["BYBIT ETHUSDT", fEthBybitUsdt],
  ["DERIBIT ETH-PERPETUAL", fEthDeribitPerp], ["DERIBIT ETH_USDC-PERPETUAL", fEthDeribitUsdc],
  ["HUOBI ETH-USD", fEthHuobiUsd], ["HUOBI ETH-USDT", fEthHuobiUsdt],
  ["KRAKEN pi_ethusd", fEthKraken], ["OKX ETH-USD", fEthOkxUsd], ["OKX ETH-USDT", fEthOkxUsdt],
];
const btcBasisList: [string, any[]][] = [
  ["BINANCE", btcBasisBinance], ["DERIBIT", btcBasisDeribit], ["HUOBI", btcBasisHuobi], ["BITGET", btcBasisBitget],
  ["BYBIT", btcBasisBybit], ["BITMEX", btcBasisBitmex], ["OKX", btcBasisOkx], ["KRAKEN", btcBasisKraken],
];
const ethBasisList: [string, any[]][] = [
  ["BINANCE", ethBasisBinance], ["DERIBIT", ethBasisDeribit], ["HUOBI", ethBasisHuobi], ["BITGET", ethBasisBitget],
  ["BYBIT", ethBasisBybit], ["BITMEX", ethBasisBitmex], ["OKX", ethBasisOkx], ["KRAKEN", ethBasisKraken],
];

const panelTitles = [
  "Global Perpetuals Total Open Interest", "Global Perpetuals Total Volume", "BTC Perpetual Funding",
  "ETH Perpetual Funding", "BTC Annualized Basis", "ETH Annualized Basis",
];

// ---------- helpers ----------
const colorOf = (name: string) => exchangeColors[name.split(" ")[0]];
const onGrid = (times: number[], vals: any[]) => times.map((t, i) => [t, vals[i]]);
const toPairs = (arr: any[]) => (Array.isArray(arr[0]) ? arr : onGrid(basisTimes, arr));
const dayLabel = (d: number) => `${Math.round(d) + 1}. Mar`;

const FONT = "DejaVu Sans";

function buildOption() {
  const cols = [
    { left: 6, width: 501, white: [21, 493], cx: 257 },
    { left: 512, width: 500, white: [523, 997], cx: 761 },
    { left: 1017, width: 480, white: [1027, 1494], cx: 1258 },
  ];
  const rows = [
    { titleY: 11, bottom: 429, cy: 31 },
    { titleY: 437, bottom: 856, cy: 457 },
  ];
  const graphics: any[] = [];
  graphics.push({ type: "rect", z: -20, silent: true, shape: { x: 0, y: 0, width: 1494, height: 857 }, style: { fill: "#ffffff" } });
  rows.forEach((r, ri) => {
    cols.forEach((c, ci) => {
      const cTop = r.titleY + 39;
      graphics.push({ type: "rect", z: -15, silent: true, shape: { x: c.left - 1, y: cTop, width: c.width + 2, height: r.bottom - cTop }, style: { fill: "#f2f2f2" } });
      graphics.push({ type: "rect", z: -14, silent: true, shape: { x: c.white[0], y: cTop + 1, width: c.white[1] - c.white[0], height: r.bottom - cTop - 2 }, style: { fill: "#ffffff" } });
      graphics.push({ type: "rect", z: 50, silent: true, shape: { x: c.left, y: cTop, width: c.width, height: r.bottom - cTop }, style: { fill: "none", stroke: "#000", lineWidth: 2 } });
      graphics.push({ type: "rect", z: 50, silent: true, shape: { x: c.left, y: r.titleY, width: c.width, height: 39 }, style: { fill: "#d9d9d9", stroke: "#000", lineWidth: 2 } });
      graphics.push({
        type: "text", z: 51, silent: true, x: c.cx, y: r.cy,
        style: { text: panelTitles[ri * 3 + ci], fill: "#000", fontFamily: "Roboto", fontWeight: "bold", fontSize: 26, align: "center", verticalAlign: "middle" },
      });
    });
  });
  graphics.push({ type: "rect", z: 52, silent: true, shape: { x: 0, y: 0, width: 1494, height: 2 }, style: { fill: "#000" } });
  graphics.push({ type: "rect", z: 52, silent: true, shape: { x: 0, y: 0, width: 5, height: 857 }, style: { fill: "#1c2640" } });

  const grids = [
    { left: 66, top: 61, width: 423, height: 300 },
    { left: 576, top: 60, width: 417, height: 300 },
    { left: 1053, top: 62, width: 432, height: 197 },
    { left: 49, top: 486, width: 436, height: 185 },
    { left: 564, top: 487, width: 427, height: 300 },
    { left: 1067, top: 492, width: 417, height: 296 },
  ];
  const yCfg = [
    { min: 0, max: 25, interval: 5, fmt: (v: number) => `$${v}B`, line: true },
    { min: 0, max: 250, interval: 50, fmt: (v: number) => `$${v}B`, line: true },
    { min: -2, max: 1, interval: 1, fmt: (v: number) => `${v}`, line: false },
    { min: -3, max: 1, interval: 1, fmt: (v: number) => `${v}`, line: false },
    { min: -8, max: 10, interval: 2, fmt: (v: number) => `${v}%`, line: false },
    { min: -10, max: 40, interval: 10, fmt: (v: number) => `${v}%`, line: false },
  ];

  const axisLine = { show: true, lineStyle: { color: "#ccd6eb", width: 1 } };
  const tickLine = { color: "#ccd6eb" };
  const labelStyle = { margin: 8, color: "#333", fontSize: 10, fontFamily: FONT };
  const splitLine = { show: true, lineStyle: { color: "#e6e6e6", width: 1 } };
  // stacked panels: category axis of half-day slots (so stacking is by slot)
  const tickSlots = dateTicks.map((d) => d * 2);
  const isTickSlot = (idx: number) => tickSlots.indexOf(idx) >= 0;
  const xAxis = grids.map((_, i) =>
    i < 2
      ? {
          type: "category", gridIndex: i, boundaryGap: false,
          data: halfDayTimes.map(dayLabel),
          axisLine,
          axisTick: { show: true, interval: isTickSlot, length: 8, lineStyle: tickLine },
          axisLabel: { ...labelStyle, interval: isTickSlot },
          splitLine: { ...splitLine, interval: isTickSlot },
        }
      : {
          type: "value", gridIndex: i, min: 0, max: 31,
          axisLine,
          axisTick: { show: true, customValues: dateTicks, length: 8, lineStyle: tickLine },
          axisLabel: { ...labelStyle, customValues: dateTicks, formatter: (v: number) => dayLabel(v) },
          splitLine,
        }
  );
  const yAxis = yCfg.map((y, i) => ({
    type: "value", gridIndex: i, min: y.min, max: y.max, interval: y.interval,
    axisLine: { show: y.line, lineStyle: { color: "#ccd6eb" } },
    axisTick: { show: false },
    axisLabel: { margin: 13, color: "#333", fontSize: 9, fontFamily: FONT, formatter: y.fmt },
    splitLine: { show: true, lineStyle: { color: "#e6e6e6", width: 1 } },
  }));

  const series: any[] = [];
  const stacked = (list: [string, number[]][], stack: string, gi: number) => {
    [...list].reverse().forEach(([name, vals]) => {
      series.push({
        type: "line", name, stack, xAxisIndex: gi, yAxisIndex: gi, symbol: "none", silent: true,
        emphasis: { disabled: true },
        data: vals,
        lineStyle: { color: "#555555", width: 1, opacity: 0.75 },
        areaStyle: { color: colorOf(name), opacity: 0.75 },
      });
    });
  };
  stacked(oiLegendOrder, "oi", 0);
  stacked(volLegendOrder, "vol", 1);

  const lines = (list: [string, any[]][], gi: number, okxW: number, w: number, bitgetOpacity: number) => {
    list.forEach(([name, vals]) => {
      const ex = name.split(" ")[0];
      series.push({
        type: "line", name, xAxisIndex: gi, yAxisIndex: gi, symbol: "none", silent: true,
        emphasis: { disabled: true }, connectNulls: false,
        data: toPairs(vals),
        lineStyle: {
          color: colorOf(name),
          width: ex === "OKX" ? okxW : w,
          opacity: ex === "BITGET" ? bitgetOpacity : 1,
        },
      });
    });
  };
  lines(btcFundingList, 2, 3, 1.8, 0.75);
  lines(ethFundingList, 3, 3, 1.8, 0.75);
  lines(btcBasisList, 4, 1.5, 1.5, 1);
  lines(ethBasisList, 5, 1.5, 1.5, 1);

  const legendText = (w: number) => ({ fontSize: 11.5, fontFamily: FONT, color: "#333", width: w, overflow: "truncate", lineHeight: 13 });
  const legendData = (names: string[]) => names.map((n) => ({ name: n, itemStyle: { color: colorOf(n) } }));
  const legend = [
    { left: 34, top: 396, width: 450, icon: "circle", itemWidth: 12, itemHeight: 12, itemGap: 2, textStyle: legendText(70), data: legendData(oiLegendOrder.map((d) => d[0])) },
    { left: 540, top: 394, width: 450, icon: "circle", itemWidth: 12, itemHeight: 12, itemGap: 2, textStyle: legendText(70), data: legendData(volLegendOrder.map((d) => d[0])) },
    { left: 1036, top: 295, width: 440, icon: "rect", itemWidth: 13, itemHeight: 2, itemGap: 1.4, textStyle: legendText(198.6), data: legendData(btcFundingList.map((d) => d[0])) },
    { left: 31, top: 706, width: 445, icon: "rect", itemWidth: 14, itemHeight: 2, itemGap: 1.4, textStyle: legendText(200.6), data: legendData(ethFundingList.map((d) => d[0])) },
    { left: 537, top: 821, width: 455, icon: "rect", itemWidth: 14, itemHeight: 2, itemGap: 1.5, textStyle: legendText(68.3), data: legendData(btcBasisList.map((d) => d[0])) },
    { left: 1035, top: 823, width: 450, icon: "rect", itemWidth: 14, itemHeight: 2, itemGap: 1.5, textStyle: legendText(67.2), data: legendData(ethBasisList.map((d) => d[0])) },
  ].map((l) => ({ ...l, orient: "horizontal", padding: 0, selectedMode: false }));

  return {
    animation: false,
    backgroundColor: "#ffffff",
    textStyle: { fontFamily: FONT },
    graphic: graphics,
    grid: grids.map((g) => ({ ...g, containLabel: false })),
    xAxis,
    yAxis,
    legend,
    series,
  };
}

export default function App() {
  const ref = useRef<HTMLDivElement>(null);
  useEffect(() => {
    if (!ref.current) return;
    const chart = echarts.init(ref.current, undefined, { renderer: "svg" });
    chart.setOption(buildOption() as any);
    return () => chart.dispose();
  }, []);
  return (
    <div
      ref={ref}
      style={{ position: "absolute", left: 0, top: 0, width: 1494, height: 857, background: "#ffffff" }}
    />
  );
}
